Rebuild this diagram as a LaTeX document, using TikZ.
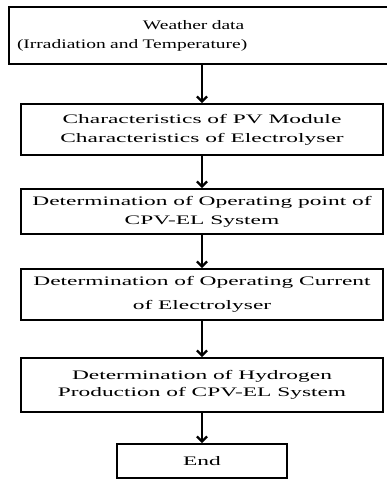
\documentclass[tikz,border=0pt]{standalone}
\usepackage{fontspec}
\setmainfont{Liberation Serif}
\newfontfamily\boxfont{Liberation Serif}[FakeStretch=1.8]
\newfontfamily\wxfont{Liberation Serif}[FakeStretch=1.5]
\usetikzlibrary{arrows.meta}
\begin{document}
\begin{tikzpicture}[x=1pt, y=-1pt]
      \tikzstyle{STY1} = [draw, rectangle, line width=2pt, inner sep=0pt, align=center, font=\boxfont\fontsize{13}{19}\selectfont]
      \tikzstyle{STY2} = [line width=2.2pt, -{Straight Barb[length=5pt, width=10pt]}]

      \useasboundingbox (0, 0) rectangle (387, 480);
      \clip (0, 0) rectangle (387, 480);

      %%%%% BOXES

      \node[STY1, line width=2.6pt, minimum width=386pt, minimum height=57pt, text width=370pt, align=left, font=\wxfont\fontsize{13}{19}\selectfont](v0) at (202, 35.5) {\hspace*{126pt}Weather data\\(Irradiation and Temperature)};

      \node[STY1, minimum width=362pt, minimum height=51pt](v1) at (202, 129.5) {Characteristics of PV Module\\Characteristics of Electrolyser};
      \node[STY1, minimum width=362pt, minimum height=45pt](v2) at (202, 211.5) {Determination of Operating point of\\CPV-EL System};
      \node[STY1, minimum width=362pt, minimum height=51pt, font=\boxfont\fontsize{13}{24}\selectfont](v3) at (202, 294.5) {Determination of Operating Current\\of Electrolyser};
      \node[STY1, minimum width=362pt, minimum height=54pt, font=\boxfont\fontsize{13}{17}\selectfont](v4) at (202, 385) {Determination of Hydrogen\\Production of CPV-EL System};

      \node[STY1, minimum width=170pt, minimum height=34pt](v5) at (202, 461) {End};

      %%%%% ARROWS
      \draw[STY2]  (v0) edge (v1);
      \draw[STY2]  (v1) edge (v2);
      \draw[STY2]  (v2) edge (v3);
      \draw[STY2]  (v3) edge (v4);
      \draw[STY2]  (v4) edge (v5);
\end{tikzpicture}
\end{document}
